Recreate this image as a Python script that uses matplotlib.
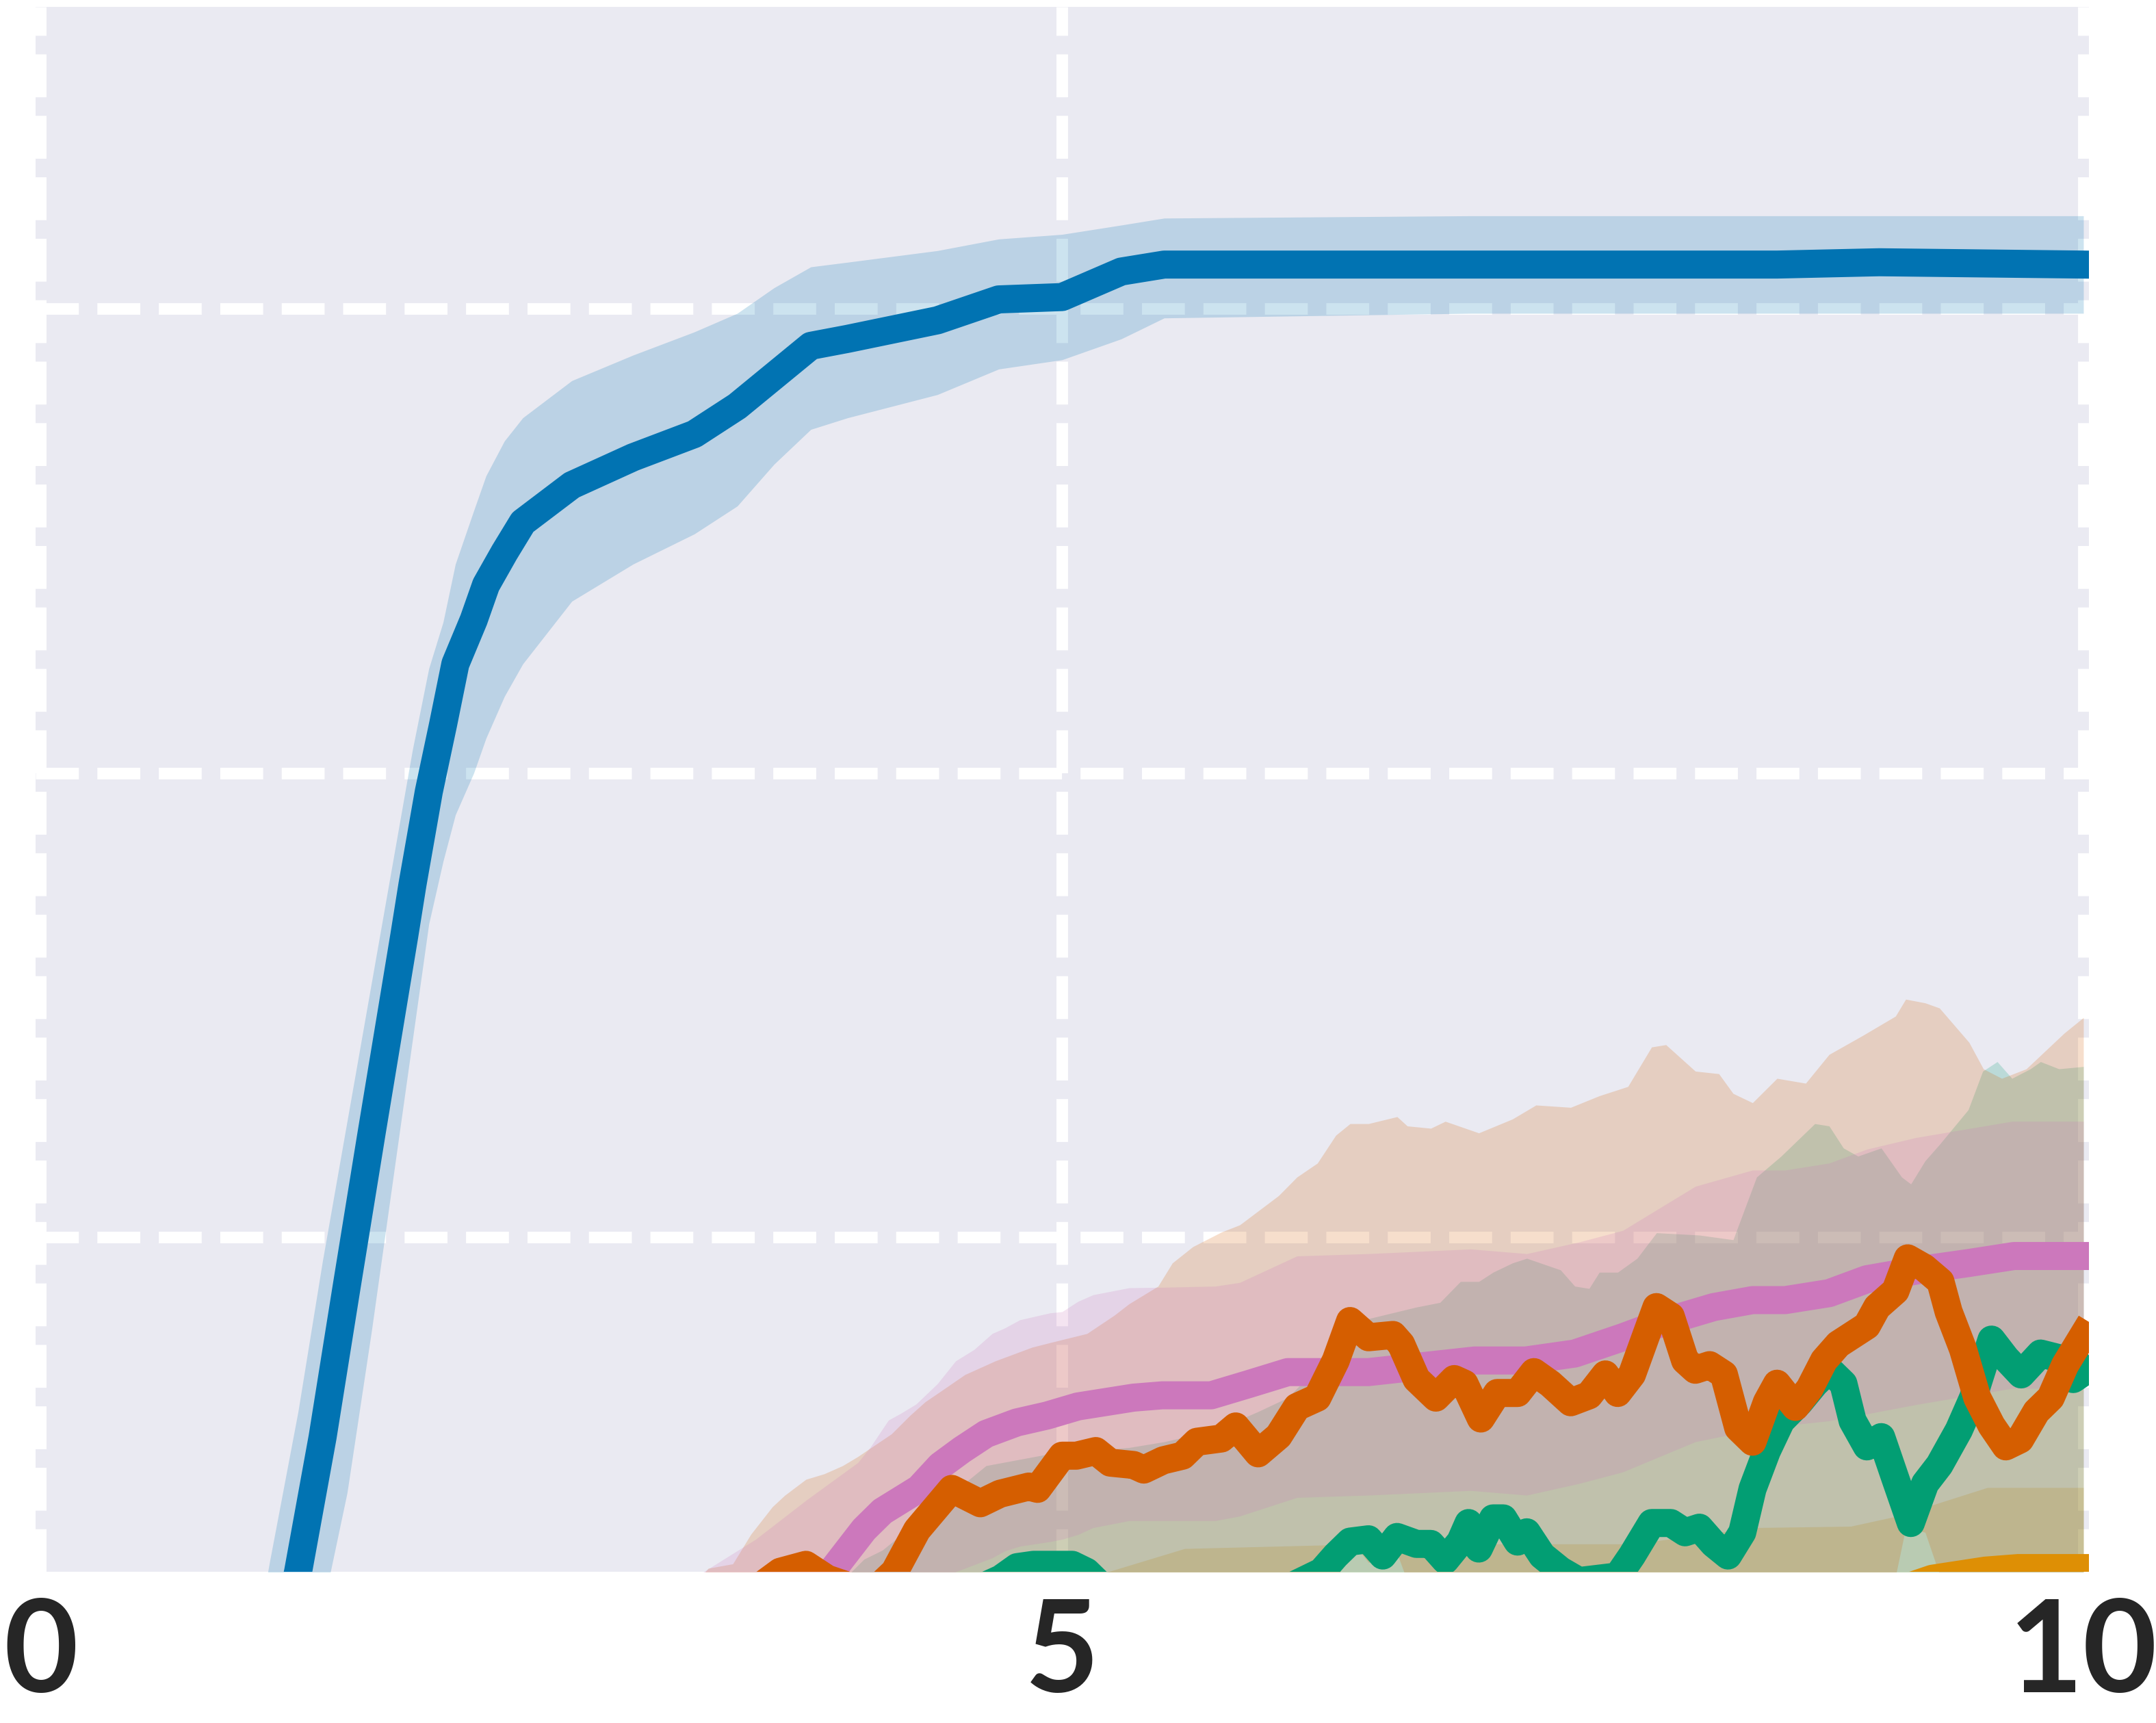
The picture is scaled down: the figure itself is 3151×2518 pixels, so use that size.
import matplotlib
matplotlib.use('Agg')
import matplotlib.pyplot as plt

# x axis ticks
x_ticks = [0, 5, 10]
x_tick_labels = ['0', '5', '10']
y_grid = [0.2, 0.4, 0.6]

# blue run (mean + band)
blue_x = [0.0, 1.0, 1.12, 1.26, 1.38, 1.50, 1.62, 1.78, 1.82, 1.90,
          1.97, 2.03, 2.12, 2.18, 2.27, 2.36, 2.60, 2.90, 3.20, 3.41,
          3.59, 3.77, 3.95, 4.39, 4.69, 5.00, 5.29, 5.50, 7.00, 8.50,
          9.00, 10.0]
blue_mean = [0.0, 0.0, 0.0, 0.056, 0.114, 0.18, 0.245, 0.33, 0.352, 0.392,
             0.421, 0.447, 0.466, 0.481, 0.495, 0.508, 0.524, 0.536, 0.546, 0.558,
             0.571, 0.584, 0.587, 0.595, 0.604, 0.605, 0.616, 0.619, 0.619, 0.619,
             0.620, 0.619]
blue_hi = [0.0, 0.0, 0.06, 0.125, 0.19, 0.25, 0.31, 0.39, 0.41, 0.445,
           0.465, 0.49, 0.513, 0.528, 0.543, 0.553, 0.569, 0.58, 0.59, 0.598,
           0.609, 0.618, 0.620, 0.625, 0.630, 0.632, 0.636, 0.639, 0.640, 0.640,
           0.640, 0.640]
blue_lo = [0.0, -0.04, -0.06, -0.01, 0.04, 0.09, 0.16, 0.26, 0.285, 0.335,
           0.362, 0.382, 0.40, 0.415, 0.433, 0.447, 0.474, 0.49, 0.503, 0.515,
           0.533, 0.548, 0.553, 0.563, 0.574, 0.578, 0.587, 0.596, 0.598, 0.598,
           0.598, 0.598]

# orange run
orange_x = [0.0, 3.0, 6.0, 8.0, 9.0, 9.16, 9.26, 9.52, 9.68, 10.0]
orange_mean = [0.0, 0.01, 0.025, 0.035, 0.045, 0.050, 0.053, 0.0565, 0.0576, 0.0576]
orange_band_x = [0.0, 3.0, 5.0, 5.6, 6.5, 7.8, 8.38, 8.86, 9.09, 9.53, 10.0]
orange_hi = [0.0, 0.03, 0.05, 0.066, 0.068, 0.068, 0.075, 0.0756, 0.080, 0.0923, 0.0923]
orange_lo = [0.0, -0.01, -0.01, -0.01, -0.015, -0.01, -0.005, -0.005, 0.01, 0.02, 0.023]

# green run
green_x = [0.0, 3.0, 4.5, 4.70, 4.78, 4.86, 4.95, 5.05, 5.12, 5.19,
           5.5, 6.0, 6.13, 6.27, 6.34, 6.41, 6.50, 6.57, 6.64, 6.735,
           6.805, 6.876, 6.95, 6.99, 7.04, 7.11, 7.16, 7.23, 7.275, 7.35,
           7.44, 7.53, 7.72, 7.79, 7.886, 7.98, 8.05, 8.12, 8.19, 8.26,
           8.33, 8.38, 8.45, 8.52, 8.61, 8.685, 8.755, 8.825, 8.87, 8.94,
           9.01, 9.08, 9.155, 9.225, 9.295, 9.39, 9.46, 9.55, 9.62, 9.695,
           9.79, 9.88, 9.95, 10.0]
green_mean = [0.0, 0.02, 0.045, 0.053, 0.058, 0.059, 0.059, 0.059, 0.056, 0.050,
              0.040, 0.045, 0.050, 0.056, 0.063, 0.069, 0.070, 0.063, 0.071, 0.068,
              0.068, 0.061, 0.069, 0.077, 0.066, 0.079, 0.079, 0.069, 0.073, 0.063,
              0.0566, 0.052, 0.054, 0.063, 0.077, 0.077, 0.073, 0.075, 0.068, 0.063,
              0.073, 0.0917, 0.108, 0.121, 0.129, 0.137, 0.143, 0.137, 0.121, 0.110,
              0.114, 0.096, 0.077, 0.094, 0.102, 0.117, 0.131, 0.156, 0.148, 0.141,
              0.150, 0.148, 0.139, 0.142]
green_band_x = [0.0, 3.9, 4.03, 4.12, 4.628, 4.927, 5.328, 5.5, 5.75, 5.96,
                6.105, 6.34, 6.50, 6.735, 6.85, 6.95, 7.04, 7.11, 7.205, 7.275,
                7.44, 7.51, 7.58, 7.63, 7.72, 7.815, 7.91, 8.12, 8.285, 8.40,
                8.52, 8.685, 8.755, 8.825, 8.896, 9.01, 9.11, 9.155, 9.225, 9.295,
                9.436, 9.507, 9.578, 9.65, 9.74, 9.79, 9.88, 10.0]
green_hi = [0.0, 0.05, 0.0614, 0.0653, 0.1017, 0.1066, 0.1095, 0.112, 0.117, 0.125,
            0.131, 0.152, 0.165, 0.170, 0.172, 0.181, 0.181, 0.185, 0.189, 0.191,
            0.186, 0.179, 0.178, 0.185, 0.185, 0.191, 0.202, 0.201, 0.199, 0.226,
            0.235, 0.249, 0.248, 0.2385, 0.235, 0.2385, 0.226, 0.223, 0.233, 0.240,
            0.255, 0.2716, 0.2757, 0.2685, 0.2726, 0.2757, 0.2726, 0.2736]
green_lo = [0.0, -0.03, -0.03, -0.03, -0.02, -0.02, -0.02, -0.02, -0.02, -0.02,
            -0.02, -0.02, -0.025, -0.03, -0.035, -0.04, -0.04, -0.04, -0.04, -0.04,
            -0.045, -0.045, -0.045, -0.045, -0.04, -0.035, -0.03, -0.03, -0.04, -0.03,
            0.0, 0.02, 0.035, 0.03, 0.0, -0.01, -0.04, -0.06, -0.04, -0.03,
            0.0, 0.02, 0.035, 0.015, 0.02, 0.025, 0.02, 0.01]

# red run
red_x = [0.0, 3.0, 3.45, 3.62, 3.746, 3.85, 3.95, 4.06, 4.18, 4.29,
         4.46, 4.60, 4.696, 4.837, 4.88, 5.00, 5.07, 5.165, 5.236, 5.35,
         5.40, 5.495, 5.59, 5.66, 5.78, 5.85, 5.96, 6.06, 6.15, 6.25,
         6.34, 6.41, 6.50, 6.62, 6.66, 6.735, 6.83, 6.92, 6.97, 7.05,
         7.13, 7.23, 7.31, 7.39, 7.49, 7.58, 7.66, 7.72, 7.79, 7.86,
         7.91, 7.98, 8.05, 8.10, 8.17, 8.24, 8.31, 8.38, 8.45, 8.50,
         8.59, 8.66, 8.73, 8.80, 8.94, 8.99, 9.08, 9.14, 9.22, 9.30,
         9.34, 9.41, 9.48, 9.55, 9.62, 9.69, 9.77, 9.84, 9.91, 10.0]
red_mean = [0.0, 0.02, 0.045, 0.056, 0.059, 0.053, 0.050, 0.046, 0.056, 0.074,
            0.0917, 0.0855, 0.0896, 0.0927, 0.0917, 0.106, 0.106, 0.108, 0.103, 0.102,
            0.100, 0.104, 0.106, 0.112, 0.1134, 0.1186, 0.107, 0.1145, 0.127, 0.131,
            0.147, 0.164, 0.157, 0.158, 0.154, 0.139, 0.131, 0.139, 0.137, 0.122,
            0.133, 0.133, 0.142, 0.137, 0.129, 0.132, 0.141, 0.133, 0.141, 0.158,
            0.170, 0.166, 0.147, 0.143, 0.145, 0.141, 0.118, 0.112, 0.129, 0.137,
            0.127, 0.135, 0.147, 0.154, 0.162, 0.170, 0.177, 0.191, 0.187, 0.181,
            0.168, 0.152, 0.131, 0.119, 0.110, 0.113, 0.125, 0.131, 0.145, 0.158]
red_band_x = [0.0, 3.0, 3.268, 3.388, 3.477, 3.582, 3.642, 3.746, 3.836, 3.926,
              4.0, 4.165, 4.255, 4.33, 4.42, 4.524, 4.673, 4.853, 4.942, 5.122,
              5.256, 5.328, 5.47, 5.54, 5.64, 5.78, 5.87, 6.06, 6.15, 6.25,
              6.34, 6.41, 6.50, 6.64, 6.69, 6.805, 6.876, 7.04, 7.205, 7.32,
              7.49, 7.63, 7.77, 7.886, 7.956, 8.10, 8.215, 8.285, 8.38, 8.50,
              8.64, 8.755, 8.92, 9.08, 9.13, 9.225, 9.295, 9.44, 9.51, 9.60,
              9.72, 9.906, 10.0]
red_hi = [0.0, 0.03, 0.0575, 0.0594, 0.0722, 0.084, 0.0889, 0.0958, 0.0982, 0.1017,
          0.1056, 0.1154, 0.1233, 0.1292, 0.1346, 0.1409, 0.1468, 0.1527, 0.1547, 0.1586,
          0.1665, 0.1714, 0.179, 0.189, 0.196, 0.2023, 0.2054, 0.218, 0.226, 0.232,
          0.244, 0.249, 0.249, 0.252, 0.248, 0.247, 0.250, 0.245, 0.251, 0.257,
          0.256, 0.261, 0.265, 0.282, 0.283, 0.2716, 0.2705, 0.262, 0.258, 0.2685,
          0.2664, 0.2788, 0.287, 0.2953, 0.3026, 0.301, 0.2988, 0.284, 0.2726, 0.2685,
          0.2726, 0.288, 0.2947]
red_lo = [0.0, -0.03, 0.02, 0.035, 0.032, 0.028, 0.027, 0.022, 0.016, 0.004,
          -0.006, -0.005, 0.01, 0.031, 0.045, 0.037, 0.029, 0.031, 0.045, 0.055,
          0.04, 0.033, 0.027, 0.021, 0.024, 0.024, 0.029, 0.011, 0.028, 0.030,
          0.05, 0.07, 0.06, 0.064, 0.052, 0.017, 0.02, 0.003, 0.015, 0.025,
          0.002, 0.007, 0.015, 0.042, 0.053, 0.014, 0.017, -0.012, -0.034, 0.005,
          0.0, 0.019, 0.035, 0.054, 0.075, 0.073, 0.055, 0.006, -0.018, -0.045,
          -0.036, 0.002, 0.021]

# pink run
pink_x = [0.0, 3.0, 3.5, 3.87, 4.03, 4.12, 4.21, 4.30, 4.404, 4.509,
          4.628, 4.778, 4.927, 5.077, 5.35, 5.49, 5.73, 5.92, 6.105, 6.5,
          7.02, 7.27, 7.51, 7.745, 7.96, 8.19, 8.38, 8.54, 8.755, 8.94,
          9.20, 9.44, 9.66, 10.0]
pink_mean = [0.0, 0.01, 0.035, 0.056, 0.0742, 0.082, 0.0869, 0.0918, 0.1017, 0.1085,
             0.1154, 0.1203, 0.1233, 0.1272, 0.131, 0.132, 0.132, 0.137, 0.142, 0.142,
             0.147, 0.147, 0.150, 0.157, 0.164, 0.170, 0.173, 0.173, 0.176, 0.182,
             0.186, 0.189, 0.192, 0.192]
pink_band_x = [0.0, 3.0, 3.245, 3.5, 3.75, 4.0, 4.06, 4.15, 4.21, 4.285,
               4.39, 4.479, 4.569, 4.658, 4.72, 4.793, 4.942, 5.0, 5.077, 5.152,
               5.328, 5.49, 5.75, 5.87, 6.15, 6.5, 7.0, 7.275, 7.53, 7.745,
               8.1, 8.38, 8.54, 8.755, 8.94, 9.18, 9.65, 10.0]
pink_hi = [0.0, 0.03, 0.056, 0.07, 0.087, 0.103, 0.1095, 0.1213, 0.1242, 0.1282,
           0.137, 0.1468, 0.1517, 0.1586, 0.161, 0.1645, 0.1675, 0.168, 0.1724, 0.1753,
           0.1783, 0.1785, 0.179, 0.1806, 0.192, 0.193, 0.195, 0.193, 0.198, 0.203,
           0.222, 0.229, 0.229, 0.232, 0.238, 0.243, 0.250, 0.250]
pink_lo = [0.0, -0.03, -0.02, -0.01, 0.0, 0.01, 0.015, 0.022, 0.028, 0.035,
           0.045, 0.056, 0.059, 0.062, 0.065, 0.067, 0.069, 0.070, 0.072, 0.075,
           0.078, 0.078, 0.078, 0.080, 0.088, 0.089, 0.091, 0.089, 0.094, 0.099,
           0.112, 0.117, 0.119, 0.121, 0.124, 0.128, 0.135, 0.135]

colors = {'blue': '#0173b2', 'orange': '#de8f05', 'green': '#029e73',
          'red': '#d55e00', 'pink': '#cc78bc'}

fig = plt.figure(figsize=(31.51, 25.18), dpi=100)
ax = fig.add_axes([52 / 3151, 1 - 2297 / 2518, 3001 / 3151, 2287 / 2518])
ax.set_facecolor('#eaeaf2')
ax.set_axisbelow(True)
for spine in ax.spines.values():
    spine.set_visible(False)

# shaded bands first, then the mean lines on top
bands = [(blue_x, blue_lo, blue_hi, 'blue'),
         (orange_band_x, orange_lo, orange_hi, 'orange'),
         (green_band_x, green_lo, green_hi, 'green'),
         (red_band_x, red_lo, red_hi, 'red'),
         (pink_band_x, pink_lo, pink_hi, 'pink')]
for bx, lo, hi, c in bands:
    ax.fill_between(bx, lo, hi, color=colors[c], alpha=0.2, lw=0)

lines = [(blue_x, blue_mean, 'blue'),
         (orange_x, orange_mean, 'orange'),
         (pink_x, pink_mean, 'pink'),
         (green_x, green_mean, 'green'),
         (red_x, red_mean, 'red')]
for lx, ly, c in lines:
    ax.plot(lx, ly, color=colors[c], lw=29.5)

ax.set_xlim(-0.025, 10.027)
ax.set_ylim(0.056, 0.730)
ax.set_xticks(x_ticks)
ax.set_xticklabels(x_tick_labels, fontsize=135, fontweight='bold',
                   family=['Lato', 'DejaVu Sans'], color='#262626')
ax.set_yticks(y_grid)
ax.set_yticklabels([])
ax.tick_params(length=0, pad=26)
ax.grid(True, color='white', ls='--', lw=12.2)

fig.savefig('out.png', dpi=100)
